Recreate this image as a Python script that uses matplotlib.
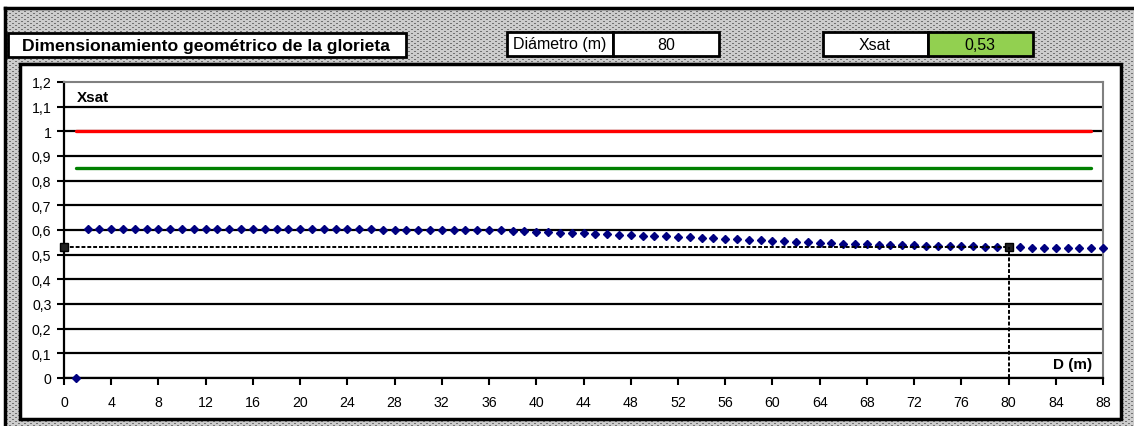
import numpy as np
import matplotlib
matplotlib.use("Agg")
import matplotlib.pyplot as plt
from matplotlib.patches import Rectangle
from matplotlib.lines import Line2D
from matplotlib.ticker import FuncFormatter

W, H = 1134, 427

# Glorieta: saturación (Xsat) en función del diámetro D (m)
diametro = 80
xsat_diametro = 0.53
xsat_limite = 1.0
xsat_recomendado = 0.85

d_values = list(range(1, 89))
xsat_values = [
    0.000, 0.605, 0.605, 0.605, 0.605, 0.605, 0.605, 0.605, 0.605, 0.605,
    0.604, 0.604, 0.604, 0.604, 0.604, 0.604, 0.604, 0.604, 0.604, 0.604,
    0.603, 0.603, 0.603, 0.603, 0.603, 0.603, 0.602, 0.602, 0.601, 0.601,
    0.601, 0.600, 0.600, 0.600, 0.600, 0.599, 0.598, 0.597, 0.595, 0.593,
    0.591, 0.589, 0.588, 0.586, 0.584, 0.582, 0.580, 0.579, 0.577, 0.576,
    0.574, 0.572, 0.570, 0.568, 0.567, 0.565, 0.563, 0.561, 0.559, 0.557,
    0.555, 0.553, 0.551, 0.549, 0.547, 0.545, 0.543, 0.542, 0.541, 0.540,
    0.539, 0.538, 0.536, 0.535, 0.535, 0.534, 0.534, 0.533, 0.532, 0.530,
    0.530, 0.529, 0.529, 0.528, 0.528, 0.527, 0.527, 0.527,
]
x_ticks = list(range(0, 89, 4))
y_ticks = [i / 10 for i in range(13)]

plt.rcParams["font.family"] = ["Liberation Sans", "DejaVu Sans"]
narrow = ["Liberation Sans Narrow", "Liberation Sans", "DejaVu Sans"]


def box(x, y, w, h, **kw):
    """Rectangle in pixel coords measured from the top-left corner."""
    return Rectangle((x / W, 1 - (y + h) / H), w / W, h / H,
                     transform=fig.transFigure, **kw)


def fx(x):
    return x / W


def fy(y):
    return 1 - y / H


fig = plt.figure(figsize=(W / 100, H / 100), dpi=100)
fig.patch.set_facecolor("white")

# stippled grey sheet background
tex = np.full((H, W, 3), 0.80)
rows, cols = np.mgrid[0:H, 0:W]
dots = ((rows % 4 == 0) & (cols % 6 < 2)) | ((rows % 4 == 2) & ((cols % 6 == 3) | (cols % 6 == 4)))
tex[dots] = 0.45
tex[:9, :] = 1.0
tex[:, :5] = 1.0
fig.figimage(tex, 0, 0, zorder=-3)

# frame of the sheet
fig.add_artist(Line2D([fx(5), 1], [fy(9), fy(9)], color="black", lw=2.5,
                      transform=fig.transFigure))
fig.add_artist(Line2D([fx(5), fx(5)], [fy(9), 0], color="black", lw=2.5,
                      transform=fig.transFigure))

# header cells
fig.add_artist(box(8, 34, 398, 24, facecolor="white", edgecolor="black", lw=2))
fig.text(fx(22), fy(46), "Dimensionamiento geométrico de la glorieta",
         fontsize=12.6, fontweight="bold", va="center", ha="left")

fig.add_artist(box(507, 33, 106, 24, facecolor="white", edgecolor="black", lw=2))
fig.add_artist(box(613, 33, 106, 24, facecolor="white", edgecolor="black", lw=2))
fig.text(fx(560), fy(45), "Diámetro (m)", fontsize=11.5, va="center", ha="center",
         family=narrow)
fig.text(fx(666), fy(45), f"{diametro}", fontsize=11.5, va="center", ha="center",
         family=narrow)

fig.add_artist(box(823, 33, 105, 24, facecolor="white", edgecolor="black", lw=2))
fig.add_artist(box(928, 33, 105, 24, facecolor="#92d050", edgecolor="black", lw=2))
fig.text(fx(875), fy(45), "Xsat", fontsize=11.5, va="center", ha="center",
         family=narrow)
fig.text(fx(980), fy(45), f"{xsat_diametro:.2f}".replace(".", ","), fontsize=11.5,
         va="center", ha="center", family=narrow)

# white chart panel
fig.add_artist(box(20, 65, 1101, 355, facecolor="white", edgecolor="black", lw=2.5,
                   zorder=-2))

ax = fig.add_axes([64 / W, 1 - 379 / H, (1103 - 64) / W, (379 - 83) / H])
ax.set_facecolor("white")
ax.set_xlim(0, 88)
ax.set_ylim(0, 1.2)

ax.set_yticks(y_ticks)
ax.set_xticks(x_ticks)
ax.yaxis.set_major_formatter(FuncFormatter(
    lambda v, _: (f"{v:.1f}".rstrip("0").rstrip(".")).replace(".", ",")))
ax.xaxis.set_major_formatter(FuncFormatter(lambda v, _: f"{v:.0f}"))
ax.tick_params(direction="out", length=5, width=1.5, color="black",
               labelsize=10.2, pad=4)
ax.tick_params(axis="x", pad=7)

ax.yaxis.grid(True, color="black", lw=1.6)
ax.set_axisbelow(True)
ax.get_ygridlines()[-1].set_visible(False)

for side in ("top", "right"):
    ax.spines[side].set_color("#808080")
    ax.spines[side].set_linewidth(1.5)
for side in ("left", "bottom"):
    ax.spines[side].set_color("black")
    ax.spines[side].set_linewidth(1.6)

# reference levels
ax.plot([1, 87], [xsat_limite, xsat_limite], color="#ff0000", lw=2.4,
        solid_capstyle="round", zorder=3)
ax.plot([1, 87], [xsat_recomendado, xsat_recomendado], color="#008000", lw=2.4,
        solid_capstyle="round", zorder=3)

# Xsat curve
ax.plot(d_values, xsat_values, linestyle="none", marker="D", markersize=4.5,
        color="#000080", zorder=4, clip_on=False)

# selected diameter
ax.plot([0, diametro], [xsat_diametro, xsat_diametro], color="black", lw=1.4,
        linestyle=(0, (2, 1)), marker="s", markersize=6, markerfacecolor="#202020",
        zorder=5, clip_on=False)
ax.plot([diametro, diametro], [0, xsat_diametro], color="black", lw=1.4,
        linestyle=(0, (2, 1)), zorder=5)

ax.text(1.1, 1.14, "Xsat", fontsize=11, fontweight="bold", va="center", ha="left")
ax.text(87.1, 0.057, "D (m)", fontsize=11, fontweight="bold", va="center", ha="right")

fig.savefig("out.png", dpi=100)
